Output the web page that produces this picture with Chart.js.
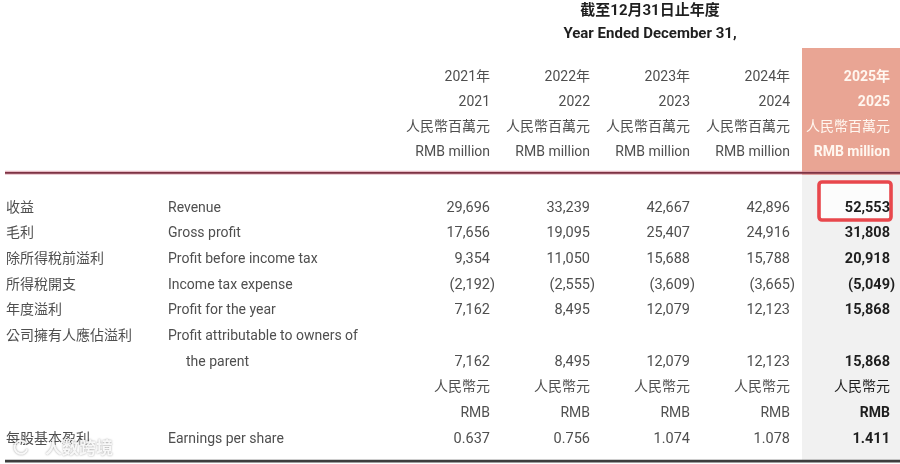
<!DOCTYPE html>
<html>
<head>
<meta charset="utf-8">
<script src="https://cdn.jsdelivr.net/npm/chart.js@4.4.1/dist/chart.umd.min.js"></script>
<style>
  html, body { margin: 0; padding: 0; background: #fff; }
  #wrap { width: 900px; height: 464px; }
</style>
</head>
<body>
<div id="wrap"><canvas id="table"></canvas></div>
<script>
// 컬럼(연도)
const years = ['2021', '2022', '2023', '2024', '2025'];
const yearsZh = ['2021年', '2022年', '2023年', '2024年', '2025年'];

// 행 키: 헤더 / 간격 / 본문
const headRows = ['yearZh', 'year', 'unitZh', 'unitEn'];
const gapRows = ['gap'];
const bodyRows = ['revenue', 'gross', 'pbt', 'tax', 'pfy', 'owners', 'parent', 'rmbZh', 'rmb', 'eps'];

// 왼쪽 항목명 (bodyRows 순서)
const labelsZh = ['收益', '毛利', '除所得稅前溢利', '所得稅開支', '年度溢利', '公司擁有人應佔溢利', '', '', '', '每股基本盈利'];
const labelsEn = ['Revenue', 'Gross profit', 'Profit before income tax', 'Income tax expense',
  'Profit for the year', 'Profit attributable to owners of', 'the parent', '', '', 'Earnings per share'];

// 값 (RMB million, EPS는 RMB)
const revenue = [29696, 33239, 42667, 42896, 52553];
const grossProfit = [17656, 19095, 25407, 24916, 31808];
const profitBeforeTax = [9354, 11050, 15688, 15788, 20918];
const incomeTax = [-2192, -2555, -3609, -3665, -5049];
const profitForYear = [7162, 8495, 12079, 12123, 15868];
const profitOwners = [7162, 8495, 12079, 12123, 15868];
const eps = [0.637, 0.756, 1.074, 1.078, 1.411];

const FONT = "Roboto, 'Noto Sans CJK TC', sans-serif";

const fmtInt = (v) =>
  v < 0 ? `(${Math.abs(v).toLocaleString('en-US')})` : v.toLocaleString('en-US');

const headCells = [];
const bodyCells = [];
const addRow = (list, row, texts) =>
  texts.forEach((t, i) => list.push({ x: years[i], y: row, t }));

addRow(headCells, 'yearZh', yearsZh);
addRow(headCells, 'year', years);
addRow(headCells, 'unitZh', years.map(() => '人民幣百萬元'));
addRow(headCells, 'unitEn', years.map(() => 'RMB million'));
addRow(bodyCells, 'revenue', revenue.map(fmtInt));
addRow(bodyCells, 'gross', grossProfit.map(fmtInt));
addRow(bodyCells, 'pbt', profitBeforeTax.map(fmtInt));
addRow(bodyCells, 'tax', incomeTax.map(fmtInt));
addRow(bodyCells, 'pfy', profitForYear.map(fmtInt));
addRow(bodyCells, 'parent', profitOwners.map(fmtInt));
addRow(bodyCells, 'rmbZh', years.map(() => '人民幣元'));
addRow(bodyCells, 'rmb', years.map(() => 'RMB'));
addRow(bodyCells, 'eps', eps.map((v) => v.toFixed(3)));

const tablePlugin = {
  id: 'tableCells',
  beforeDatasetsDraw(chart) {
    const { ctx, chartArea, scales: { x, yHead, yGap, yBody } } = chart;
    const half = (x.getPixelForValue('2022') - x.getPixelForValue('2021')) / 2;
    const hlLeft = x.getPixelForValue('2025') - half + 2;
    const hlWidth = chartArea.right - hlLeft;
    const lineY = yGap.getPixelForValue('gap') - 7;
    const topY = yHead.top - 16.5;
    const bottomY = yBody.bottom + 9;

    ctx.save();
    // 2025 강조 컬럼
    ctx.fillStyle = '#f1f1f1';
    ctx.fillRect(hlLeft, lineY, hlWidth, bottomY - lineY);
    ctx.fillStyle = '#e9a594';
    ctx.fillRect(hlLeft, topY, hlWidth, lineY - topY + 2);

    // 상단 라인
    ctx.strokeStyle = 'rgba(214,140,156,0.6)';
    ctx.lineWidth = 4;
    ctx.beginPath();
    ctx.moveTo(5, lineY);
    ctx.lineTo(chartArea.right, lineY);
    ctx.stroke();
    ctx.strokeStyle = '#7d3344';
    ctx.lineWidth = 1.6;
    ctx.beginPath();
    ctx.moveTo(5, lineY);
    ctx.lineTo(chartArea.right, lineY);
    ctx.stroke();

    // 하단 라인
    ctx.strokeStyle = '#3d3d3d';
    ctx.lineWidth = 2.6;
    ctx.beginPath();
    ctx.moveTo(5, bottomY);
    ctx.lineTo(chartArea.right, bottomY);
    ctx.stroke();

    // 2025 수익 빨간 박스
    const bx = x.getPixelForValue('2025');
    const by = yBody.getPixelForValue('revenue');
    ctx.beginPath();
    ctx.roundRect(bx - 31, by - 26, 72, 38, 3);
    ctx.fillStyle = '#fcfcfc';
    ctx.fill();
    ctx.strokeStyle = '#e8474c';
    ctx.lineWidth = 3.6;
    ctx.stroke();
    ctx.restore();
  },
  afterDatasetsDraw(chart) {
    const { ctx, scales: { yBody } } = chart;
    ctx.save();
    ctx.textBaseline = 'middle';

    chart.data.datasets.forEach((ds, di) => {
      const meta = chart.getDatasetMeta(di);
      const isHeader = ds.yAxisID === 'yHead';
      meta.data.forEach((el, i) => {
        const cell = ds.data[i];
        const isLast = cell.x === '2025';
        const isNumber = /^[\d(]/.test(cell.t) && !isHeader;
        let color = '#4f4f4f';
        let weight = '400';
        if (isLast) {
          if (isHeader) {
            color = '#fff7f0';
            weight = cell.y === 'unitZh' ? '400' : 'bold';
          } else {
            color = '#1e1e1e';
            weight = cell.y === 'rmbZh' ? '400' : 'bold';
          }
        }
        ctx.fillStyle = color;
        ctx.font = `${weight} ${isNumber ? 14.5 : 14}px ${FONT}`;
        const right = el.x + 40;
        let text = cell.t;
        if (text.endsWith(')')) {
          text = text.slice(0, -1);
          ctx.textAlign = 'left';
          ctx.fillText(')', right, el.y);
        }
        ctx.textAlign = 'right';
        ctx.fillText(text, right, el.y);
      });
    });

    // 왼쪽 항목명
    ctx.textAlign = 'left';
    ctx.fillStyle = '#4f4f4f';
    ctx.font = `400 14px ${FONT}`;
    bodyRows.forEach((key, i) => {
      const py = yBody.getPixelForValue(key);
      if (labelsZh[i]) ctx.fillText(labelsZh[i], 6, py);
      if (labelsEn[i]) ctx.fillText(labelsEn[i], key === 'parent' ? 186 : 168, py);
    });
    ctx.restore();
  },
  afterDraw(chart) {
    // 워터마크
    const { ctx, scales: { yBody } } = chart;
    const py = yBody.getPixelForValue('eps') + 8;
    ctx.save();
    ctx.shadowColor = 'rgba(0,0,0,0.45)';
    ctx.shadowBlur = 2;
    ctx.strokeStyle = 'rgba(255,255,255,0.9)';
    ctx.lineWidth = 2;
    ctx.beginPath();
    ctx.arc(21, py, 6.5, 0.3, Math.PI * 1.8);
    ctx.stroke();
    ctx.fillStyle = 'rgba(255,255,255,0.9)';
    ctx.font = `bold 17px 'Noto Sans CJK SC', sans-serif`;
    ctx.textBaseline = 'middle';
    ctx.fillText('人数跨境', 45, py);
    ctx.restore();
  },
};

const cellDataset = (data, yAxisID) => ({
  data,
  yAxisID,
  pointRadius: 0,
  pointHoverRadius: 0,
  showLine: false,
});

new Chart(document.getElementById('table'), {
  type: 'scatter',
  data: {
    datasets: [cellDataset(headCells, 'yHead'), cellDataset(bodyCells, 'yBody')],
  },
  options: {
    responsive: true,
    maintainAspectRatio: false,
    animation: false,
    layout: { padding: { left: 400, right: 0, top: 0, bottom: 11.85 } },
    scales: {
      x: { type: 'category', labels: years, offset: true, display: false },
      // 세로로 쌓인 세 개의 카테고리 축 (위: 헤더, 가운데: 간격, 아래: 본문)
      yHead: {
        type: 'category', labels: headRows, offset: true, display: false,
        position: 'left', stack: 'rows', stackWeight: 100, weight: 3,
      },
      yGap: {
        type: 'category', labels: gapRows, offset: true, display: false,
        position: 'left', stack: 'rows', stackWeight: 30.65, weight: 2,
      },
      yBody: {
        type: 'category', labels: bodyRows, offset: true, display: false,
        position: 'left', stack: 'rows', stackWeight: 257, weight: 1,
      },
    },
    plugins: {
      legend: { display: false },
      tooltip: { enabled: false },
      title: {
        display: true,
        fullSize: false,
        text: ['截至12月31日止年度', 'Year Ended December 31,'],
        color: '#1f1f1f',
        font: { family: FONT, size: 15, weight: 'bold', lineHeight: '23px' },
        padding: { top: 0, bottom: 18.5 },
      },
    },
  },
  plugins: [tablePlugin],
});
</script>
</body>
</html>
